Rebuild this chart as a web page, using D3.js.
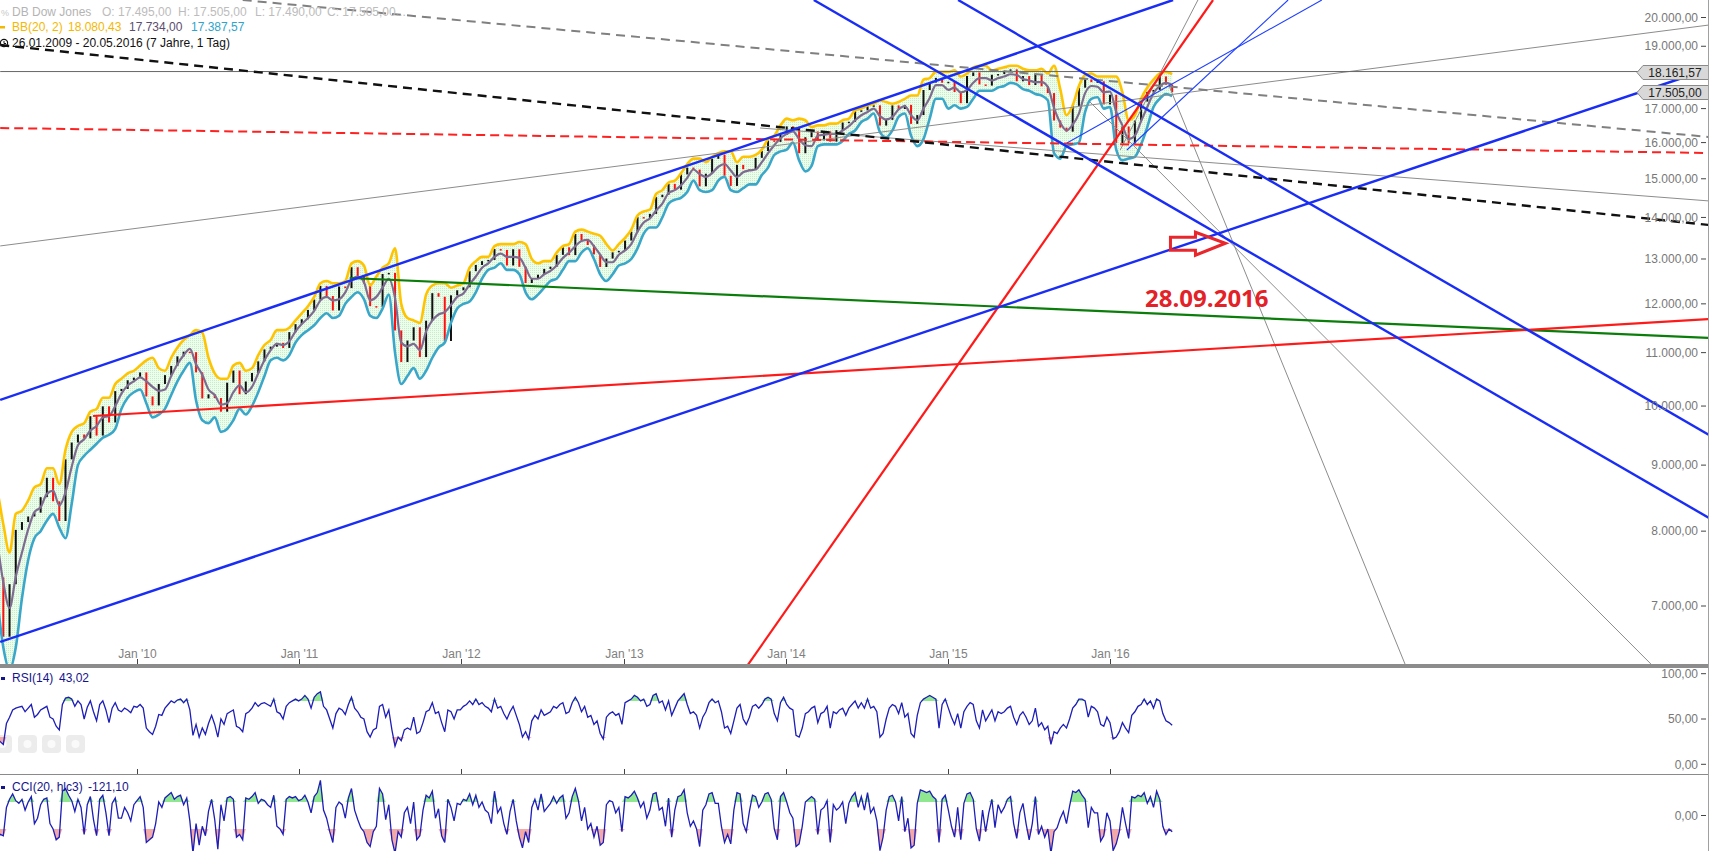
<!DOCTYPE html>
<html><head><meta charset="utf-8">
<script src="https://cdn.jsdelivr.net/npm/d3@7"></script>
<style>
html,body{margin:0;padding:0;background:#fff;overflow:hidden}
svg{display:block}
text{font-family:"Liberation Sans",Arial,sans-serif;font-size:12px}
</style></head><body>
<svg id="chart" width="1709" height="851"></svg>
<script>
// ================= DATA =================
// Dow Jones, bi-weekly Friday closes starting 2009-02-06
const priceStart = "2009-02-06";
const closes = [
8280,7366,6627,7278,8018,8131,8212,8268,8500,8799,8438,8146,9093,9370,9505,9441,9820,9487,9995,9712,10270,10310,10471,10520,
10618,10173,10012,10402,10567,10742,10927,11019,11009,10620,10137,10212,10144,9900,10425,10654,10214,10448,10608,10830,11063,11118,11193,11092,11410,11573,
11675,11871,12092,12391,12169,11859,12377,12342,12810,12596,12441,11952,11934,12657,12681,11444,10817,11240,11509,10913,11644,12231,12153,11231,12184,12294,
12360,12720,12862,12950,12978,13232,13212,12850,13228,12820,12454,12554,12640,12772,12822,13096,13275,13090,13593,13437,13328,13107,12815,13010,13155,13190,
13435,13650,14010,13982,14090,14515,14579,14865,14712,15118,15303,15248,14800,15136,15544,15658,15081,14810,15376,15258,15237,15570,15761,16064,16020,16221,
16469,16458,15699,16154,16322,16065,16323,16027,16361,16583,16606,16924,16947,17068,17100,16493,16663,17098,16988,17113,16544,16805,17573,17810,17958,17804,
17833,17511,17165,18019,18133,17749,17712,18058,18080,18191,18232,17849,18015,17730,18086,17690,17477,16643,16433,16315,17084,17646,17910,17823,17848,17128,
17425,15988,16466,15974,16640,17213,17515,17577,18004,17740,17505];
// Bollinger Band (20,2) upper / lower, same dates
const bbUpper = [
8800,8600,8100,7700,8250,8300,8450,8650,8700,8950,8950,8700,9250,9550,9650,9700,9900,9950,10150,10150,10400,10500,10600,10650,
10750,10850,10900,10700,10650,10900,11100,11250,11350,11450,11400,10900,10600,10500,10500,10750,10800,10650,10700,10950,11150,11250,11450,11450,11500,11650,
11800,11950,12150,12450,12500,12450,12450,12500,12900,12950,12850,12400,12600,12800,12900,13250,12000,11700,11650,11600,12200,12400,12450,12450,12350,12400,
12450,12800,12950,13050,13050,13300,13350,13350,13350,13400,13350,13000,12900,12950,12950,13150,13300,13350,13650,13700,13650,13600,13550,13350,13200,13350,
13500,13700,14050,14150,14200,14600,14700,14900,14950,15150,15400,15550,15550,15450,15600,15700,15750,15750,15450,15600,15600,15650,15800,16100,16200,16500,
16700,16650,16700,16650,16450,16500,16500,16550,16550,16650,16700,16950,17000,17100,17150,17250,17200,17150,17200,17300,17400,17400,17900,17950,18150,18150,
18150,18200,18000,18100,18300,18350,18350,18200,18250,18300,18350,18350,18250,18200,18200,18250,18100,18350,17600,16800,17100,17700,18050,18100,18000,18000,
18000,18000,17500,16650,16800,17300,17650,17900,18100,18150,18080.43];
const bbLower = [
7900,7100,6500,6250,6500,7100,7600,7900,8000,8150,8250,8050,7900,8400,9000,9150,9250,9350,9450,9500,9600,9950,10150,10250,
10300,10050,9800,9850,9950,10200,10450,10650,10800,10100,9750,9700,9800,9550,9600,9750,9950,9850,10000,10250,10550,10850,10900,10850,10950,11200,
11350,11450,11550,11700,11800,11700,11750,12000,12150,12250,12100,11750,11700,11900,12200,11000,10400,10550,10700,10500,10650,10900,11100,11200,11600,11900,
12000,12050,12250,12550,12750,12800,12900,12750,12750,12650,12250,12100,12200,12350,12500,12550,12750,12950,12950,13150,13250,13000,12650,12500,12650,12850,
12900,13000,13250,13600,13750,13750,14000,14350,14450,14500,14650,14950,14700,14650,14700,14950,15050,14700,14650,14750,14850,14850,15100,15300,15650,15750,
15800,16000,15500,15200,15350,15900,15950,15950,15950,16050,16250,16350,16600,16700,16850,16300,16150,16350,16750,16850,16200,15900,16100,16700,17300,17300,
17000,17100,17000,17050,17300,17550,17550,17550,17650,17700,17800,17750,17600,17550,17450,17400,17250,15700,15550,15900,15950,16000,16900,17300,17350,17000,
17050,15800,15500,15550,15600,15950,16450,17050,17300,17450,17387.57];

// Indicators, weekly Friday values starting 2009-02-06
const indStart = "2009-02-06";
const rsi = [
45,38,28,25,22,45,52,60,62,63,64,58,62,66,52,55,60,62,64,52,50,42,38,66,73,74,72,64,70,66,50,63,70,58,48,66,70,60,46,62,68,60,58,62,60,57,64,
63,66,62,40,36,33,42,55,54,62,66,70,68,71,72,68,72,60,32,44,30,40,33,45,54,44,30,50,44,56,58,60,42,40,36,56,58,62,68,64,67,68,66,64,72,58,56,50,64,68,70,72,70,
72,76,72,62,74,78,80,64,60,50,40,56,62,60,55,66,74,62,58,52,50,36,30,38,40,64,66,52,60,38,20,30,26,38,40,38,52,34,36,46,58,60,68,56,58,46,36,60,58,50,60,60,
64,66,70,66,72,66,68,64,62,58,72,62,64,56,50,58,64,54,44,30,36,28,48,54,50,60,54,56,58,64,62,66,68,56,58,68,74,68,58,64,52,54,44,48,34,28,52,56,58,54,56,44,
68,70,72,76,74,70,72,64,66,76,78,68,70,60,70,54,62,70,74,78,66,56,58,54,40,52,58,68,72,68,70,58,40,42,34,48,62,66,50,44,52,64,66,62,66,72,74,72,56,48,68,74,
66,62,60,32,30,40,56,58,62,64,46,56,58,64,40,58,56,60,62,54,62,66,70,62,68,62,72,62,64,58,30,34,50,62,66,64,56,68,52,56,34,30,54,68,72,74,76,74,72,40,66,72,
62,52,44,56,40,58,64,68,66,48,40,60,48,54,60,48,58,56,58,62,64,52,44,54,58,52,44,48,62,42,46,38,42,22,36,34,40,44,40,50,62,66,72,72,70,52,64,62,58,44,42,52,
46,28,30,36,46,40,35,54,58,64,66,72,66,70,62,72,70,56,48,46,43.02];
const cci = [
-60,-120,-180,-140,-150,60,120,160,110,90,120,40,100,140,-60,-20,80,120,130,-60,-100,-180,-160,180,200,150,110,30,120,60,-140,80,140,-30,-150,120,150,20,-150,90,130,-20,-20,60,20,-40,80,
110,140,60,-200,-180,-160,-60,100,60,130,150,170,120,140,150,80,130,-40,-280,-60,-220,-80,-150,30,120,-30,-250,80,-40,130,140,120,-160,-140,-180,130,120,140,170,90,120,110,80,60,150,-80,-100,-140,120,140,130,140,110,
120,150,100,20,140,170,260,40,-20,-120,-200,60,100,80,-20,130,200,40,-30,-90,-120,-200,-230,-120,-80,200,160,-30,80,-180,-280,-120,-160,20,60,-60,100,-180,-150,40,150,130,180,-20,50,-150,-200,120,60,-40,90,80,
120,110,160,80,150,60,100,40,20,-60,180,20,60,-60,-140,30,120,-40,-160,-240,-120,-200,60,120,40,160,30,60,90,140,90,130,150,-20,20,140,200,110,-40,60,-100,-60,-160,-80,-220,-200,80,110,100,20,60,-120,
140,130,150,180,130,60,100,-20,40,160,170,40,60,-80,130,-160,40,140,150,190,20,-80,-40,-100,-230,40,80,160,170,90,90,-80,-200,-140,-210,40,170,160,-60,-120,30,150,140,60,100,160,170,120,-100,-180,140,170,
100,20,-20,-230,-210,-80,100,120,140,120,-140,40,60,110,-200,80,40,60,100,-60,90,140,170,60,140,40,170,20,60,-40,-260,-160,40,140,150,100,-40,140,-120,-20,-240,-220,90,190,180,170,180,140,120,-200,120,150,
40,-80,-160,60,-180,90,160,170,120,-100,-190,40,-120,20,120,-90,80,20,60,120,140,-60,-170,20,90,-60,-180,-60,140,-140,-80,-160,-100,-280,-120,-90,-20,30,-60,70,180,170,190,150,120,-90,60,20,20,-190,-150,20,
-40,-260,-210,-120,60,-60,-170,140,130,150,140,170,90,140,60,180,120,-80,-140,-100,-121.1];

// axis ticks
const yTicks = [20000,19000,17000,16000,15000,14000,13000,12000,11000,10000,9000,8000,7000];
const xTickDates = ["2010-01-01","2011-01-01","2012-01-01","2013-01-01","2014-01-01","2015-01-01","2016-01-01"];
const xTickLabels = ["Jan '10","Jan '11","Jan '12","Jan '13","Jan '14","Jan '15","Jan '16"];
const rsiTicks = [100,50,0];
const cciTicks = [0];
const markerValues = [18161.57, 17505.00];

// drawn trend lines: two anchor points [date, value]
const blueChannelTop    = [["2009-02-27",10110],["2016-05-22",20634]];
const blueChannelBottom = [["2009-02-27",6566],["2019-09-11",18244]];
const blueDescUpper     = [["2015-01-24",20634],["2019-09-11",9498]];
const blueDescLower     = [["2014-03-05",20634],["2019-09-11",8190]];
const blueThinShallow   = [["2015-09-26",15988],["2017-04-22",20634]];
const blueThinSteep     = [["2016-02-08",15790],["2017-02-05",20634]];
const redSteep          = [["2013-10-06",6291],["2016-08-20",20634]];
const redSupport        = [["2009-09-24",9824],["2019-09-11",11680]];
const greenSupport      = [["2011-04-25",12566],["2019-09-11",11292]];
const redDashed         = [["2009-02-27",16422],["2019-09-11",15706]];
const blackDashed       = [["2009-02-27",19042],["2019-09-11",13812]];
const grayDashed        = [["2010-08-27",20634],["2019-09-11",16160]];
const grayRising        = [["2009-02-27",13306],["2019-09-11",19734]];
const grayFalling       = [["2013-11-04",16422],["2019-09-11",14418]];
const grayFan1          = [["2016-05-15",17637],["2017-10-28",6291]];
const grayFan2          = [["2015-11-17",17202],["2019-05-03",6312]];
const grayFan3          = [["2016-01-24",15790],["2016-07-17",20634]];
const lastLevelLine     = [["2009-02-27",18161.57],["2019-09-11",18161.57]];

// annotation
const arrowTip = ["2016-09-17", 13370];
const noteAnchor = ["2016-03-20", 11932];
const noteText = "28.09.2016";

// legend texts
const legendName = "DB Dow Jones";
const legendOHLC = [["O: 17.495,00",102],["H: 17.505,00",178],["L: 17.490,00",255],["C: 17.505,00...",327]];
const bbLegend = ["BB(20, 2)","18.080,43","17.734,00","17.387,57"];
const rangeLegend = "26.01.2009 - 20.05.2016 (7 Jahre, 1 Tag)";
const rsiLegend = ["RSI(14)","43,02"];
const cciLegend = ["CCI(20, hlc3)","-121,10"];

// ================= DRAWING =================
const P = d3.utcParse("%Y-%m-%d");
const svg = d3.select("#chart");
const W = 1709, H = 851, mainBottom = 664, rsiTop = 668, rsiBottom = 774, cciTop = 775;

const x = d3.scaleUtc().domain([P("2010-01-01"), P("2016-01-01")]).range([137, 1110]);
const y = d3.scaleLog().domain([20000, 7000]).range([17.5, 606]);
const yR = d3.scaleLinear().domain([0, 100]).range([764.3, 673.7]);
const yC = d3.scaleLinear().domain([-100, 100]).range([829, 802]);
const fmt = d3.formatLocale({decimal: ",", thousands: ".", grouping: [3], currency: ["", ""]}).format(",.2f");

const price = closes.map((c, i) => ({
  date: d3.utcDay.offset(P(priceStart), 14 * i),
  c, o: i > 0 ? closes[i - 1] : c, up: bbUpper[i], lo: bbLower[i]
}));
const ind = rsi.map((v, i) => ({date: d3.utcDay.offset(P(indStart), 7 * i), r: v, c: cci[i]}));

const defs = svg.append("defs");
defs.append("clipPath").attr("id", "cMain").append("rect").attr("x", 0).attr("y", 0).attr("width", 1708).attr("height", mainBottom);
defs.append("clipPath").attr("id", "cRsi").append("rect").attr("x", 0).attr("y", rsiTop).attr("width", 1708).attr("height", rsiBottom - rsiTop);
defs.append("clipPath").attr("id", "cCci").append("rect").attr("x", 0).attr("y", cciTop).attr("width", 1708).attr("height", H - cciTop);
const pat = defs.append("pattern").attr("id", "bbFill").attr("width", 2).attr("height", 2).attr("patternUnits", "userSpaceOnUse");
pat.append("rect").attr("width", 2).attr("height", 2).attr("fill", "#eefcee");
pat.append("rect").attr("width", 1).attr("height", 1).attr("fill", "#c4efc4");

const main = svg.append("g").attr("clip-path", "url(#cMain)");

// Bollinger fill
main.append("path").datum(price)
  .attr("d", d3.area().x(d => x(d.date)).y0(d => y(d.lo)).y1(d => y(d.up)).curve(d3.curveMonotoneX))
  .attr("fill", "url(#bbFill)");

// candles (open = previous close)
main.append("g").selectAll("rect").data(price).join("rect")
  .attr("x", d => x(d.date) - 1)
  .attr("width", 2)
  .attr("y", d => Math.min(y(d.o), y(d.c)))
  .attr("height", d => Math.max(1.5, Math.abs(y(d.o) - y(d.c))))
  .attr("fill", d => d.c < d.o ? "#ff1010" : "#111");

const lineGen = (acc) => d3.line().x(d => x(d.date)).y(d => y(acc(d))).curve(d3.curveMonotoneX);
main.append("path").datum(price).attr("d", lineGen(d => (d.up + d.lo) / 2)).attr("fill", "none").attr("stroke", "#7d6c90").attr("stroke-width", 2.2);
main.append("path").datum(price).attr("d", lineGen(d => d.up)).attr("fill", "none").attr("stroke", "#ffc400").attr("stroke-width", 2.6);
main.append("path").datum(price).attr("d", lineGen(d => d.lo)).attr("fill", "none").attr("stroke", "#3aa6c9").attr("stroke-width", 2.6);

// trend lines
function trend(pts, color, width, dash) {
  main.append("line")
    .attr("x1", x(P(pts[0][0]))).attr("y1", y(pts[0][1]))
    .attr("x2", x(P(pts[1][0]))).attr("y2", y(pts[1][1]))
    .attr("stroke", color).attr("stroke-width", width)
    .attr("stroke-dasharray", dash || null);
}
trend(grayRising, "#8c8c8c", 1);
trend(grayFalling, "#8c8c8c", 1);
trend(grayFan1, "#8c8c8c", 1);
trend(grayFan2, "#8c8c8c", 1);
trend(grayFan3, "#8c8c8c", 1);
trend(lastLevelLine, "#666", 1);
trend(grayDashed, "#808080", 2, "9,6");
trend(redDashed, "#ff2020", 2, "9,5");
trend(blackDashed, "#111", 2.4, "9,6");
trend(greenSupport, "#0b7d0b", 2.2);
trend(redSupport, "#ff1a1a", 2.2);
trend(redSteep, "#ff1a1a", 2.2);
trend(blueThinShallow, "#2040ff", 1.1);
trend(blueThinSteep, "#2040ff", 1.1);
trend(blueChannelTop, "#1a2df5", 2.4);
trend(blueChannelBottom, "#1a2df5", 2.4);
trend(blueDescUpper, "#1a2df5", 2.4);
trend(blueDescLower, "#1a2df5", 2.4);

// annotation arrow + date
const tx = x(P(arrowTip[0])), ty = y(arrowTip[1]);
main.append("path")
  .attr("d", `M${tx-55},${ty-6}L${tx-30},${ty-6}L${tx-30},${ty-11}L${tx},${ty}L${tx-30},${ty+12}L${tx-30},${ty+7}L${tx-55},${ty+7}Z`)
  .attr("fill", "none").attr("stroke", "#e8262c").attr("stroke-width", 3).attr("stroke-linejoin", "miter");
main.append("text").attr("x", x(P(noteAnchor[0]))).attr("y", y(noteAnchor[1]))
  .attr("fill", "#e32228").style("font-family", "'Open Sans',sans-serif").style("font-weight", 700).style("font-size", "24px")
  .text(noteText);

// right price axis
const ax = svg.append("g");
yTicks.forEach(v => {
  ax.append("text").attr("x", 1698).attr("y", y(v)).attr("dy", "0.35em").attr("text-anchor", "end").attr("fill", "#777").text(fmt(v));
  ax.append("line").attr("x1", 1701).attr("x2", 1706).attr("y1", y(v)).attr("y2", y(v)).attr("stroke", "#444");
});
// value markers
markerValues.forEach(v => {
  const yy = Math.round(y(v)) + 0.5;
  ax.append("path").attr("d", `M1637,${yy}L1643,${yy-7}L1709,${yy-7}L1709,${yy+7}L1643,${yy+7}Z`)
    .attr("fill", "#d8d8d8").attr("stroke", "#8a8a8a");
  ax.append("text").attr("x", 1675).attr("y", yy).attr("dy", "0.36em").attr("text-anchor", "middle").attr("fill", "#222").text(fmt(v));
});

// legend
const lg = svg.append("g");
lg.append("text").attr("x", 1).attr("y", 16).attr("fill", "#c8c8c8").style("font-size", "9px").text("%");
lg.append("text").attr("x", 12).attr("y", 16).attr("fill", "#b4b4b4").text(legendName);
legendOHLC.forEach(([t, px]) => lg.append("text").attr("x", px).attr("y", 16).attr("fill", "#bcbcbc").text(t));
lg.append("rect").attr("x", 0).attr("y", 26).attr("width", 5).attr("height", 2.5).attr("fill", "#f5b800");
const bbCols = ["#f5b800", "#f5b800", "#5b4d6e", "#2ea4cc"], bbX = [12, 68, 129, 191];
bbLegend.forEach((t, i) => lg.append("text").attr("x", bbX[i]).attr("y", 31).attr("fill", bbCols[i]).text(t));
lg.append("circle").attr("cx", 4).attr("cy", 43).attr("r", 3.6).attr("fill", "none").attr("stroke", "#111").attr("stroke-width", 1.2);
lg.append("path").attr("d", "M4,41V43.5H6").attr("fill", "none").attr("stroke", "#111").attr("stroke-width", 1);
lg.append("text").attr("x", 12).attr("y", 47).attr("fill", "#111").text(rangeLegend);

// x axis
xTickDates.forEach((d, i) => {
  const xx = Math.round(x(P(d))) + 0.5;
  svg.append("text").attr("x", xx).attr("y", 657.5).attr("text-anchor", "middle").attr("fill", "#808080").text(xTickLabels[i]);
  svg.append("line").attr("x1", xx).attr("x2", xx).attr("y1", 659).attr("y2", 664).attr("stroke", "#444");
  svg.append("line").attr("x1", xx).attr("x2", xx).attr("y1", 769).attr("y2", 774).attr("stroke", "#444");
});

// separators
svg.append("rect").attr("x", 0).attr("y", mainBottom).attr("width", 1708).attr("height", 4).attr("fill", "#8c8c8c");
svg.append("line").attr("x1", 0).attr("x2", 1708).attr("y1", 774.5).attr("y2", 774.5).attr("stroke", "#8a8a8a");
svg.append("line").attr("x1", 1708.5).attr("x2", 1708.5).attr("y1", 0).attr("y2", H).attr("stroke", "#a0a0a0");

// faint control buttons
[[-7], [18], [42], [66]].forEach(([bx]) => {
  svg.append("rect").attr("x", bx).attr("y", 735).attr("width", 19).attr("height", 18).attr("rx", 4)
    .attr("fill", "#ececec");
  svg.append("circle").attr("cx", bx + 9.5).attr("cy", 744).attr("r", 4).attr("fill", "#fafafa");
});

// RSI panel
const rp = svg.append("g").attr("clip-path", "url(#cRsi)");
rp.append("path").datum(ind).attr("d", d3.area().x(d => x(d.date)).y0(yR(70)).y1(d => yR(Math.max(70, d.r))))
  .attr("fill", "#8fe88f");
rp.append("path").datum(ind).attr("d", d3.area().x(d => x(d.date)).y0(yR(30)).y1(d => yR(Math.min(30, d.r))))
  .attr("fill", "#f4a9a9");
rp.append("path").datum(ind).attr("d", d3.line().x(d => x(d.date)).y(d => yR(d.r)))
  .attr("fill", "none").attr("stroke", "#1d1db8").attr("stroke-width", 1.3);
rsiTicks.forEach(v => {
  svg.append("text").attr("x", 1698).attr("y", yR(v)).attr("dy", "0.35em").attr("text-anchor", "end").attr("fill", "#777").text(fmt(v));
  svg.append("line").attr("x1", 1701).attr("x2", 1706).attr("y1", yR(v)).attr("y2", yR(v)).attr("stroke", "#444");
});
svg.append("rect").attr("x", 1).attr("y", 677).attr("width", 4).attr("height", 3).attr("fill", "#14148c");
svg.append("text").attr("x", 12).attr("y", 682).attr("fill", "#14148c").text(rsiLegend[0]);
svg.append("text").attr("x", 59).attr("y", 682).attr("fill", "#14148c").text(rsiLegend[1]);

// CCI panel
const cp = svg.append("g").attr("clip-path", "url(#cCci)");
cp.append("path").datum(ind).attr("d", d3.area().x(d => x(d.date)).y0(yC(100)).y1(d => yC(Math.max(100, d.c))))
  .attr("fill", "#8fe88f");
cp.append("path").datum(ind).attr("d", d3.area().x(d => x(d.date)).y0(yC(-100)).y1(d => yC(Math.min(-100, d.c))))
  .attr("fill", "#f4a9a9");
cp.append("path").datum(ind).attr("d", d3.line().x(d => x(d.date)).y(d => yC(d.c)))
  .attr("fill", "none").attr("stroke", "#1d1db8").attr("stroke-width", 1.3);
cciTicks.forEach(v => {
  svg.append("text").attr("x", 1698).attr("y", yC(v)).attr("dy", "0.35em").attr("text-anchor", "end").attr("fill", "#777").text(fmt(v));
  svg.append("line").attr("x1", 1701).attr("x2", 1706).attr("y1", yC(v)).attr("y2", yC(v)).attr("stroke", "#444");
});
svg.append("rect").attr("x", 1).attr("y", 786).attr("width", 4).attr("height", 3).attr("fill", "#14148c");
svg.append("text").attr("x", 12).attr("y", 791).attr("fill", "#14148c").text(cciLegend[0]);
svg.append("text").attr("x", 88).attr("y", 791).attr("fill", "#14148c").text(cciLegend[1]);
</script>
</body></html>
